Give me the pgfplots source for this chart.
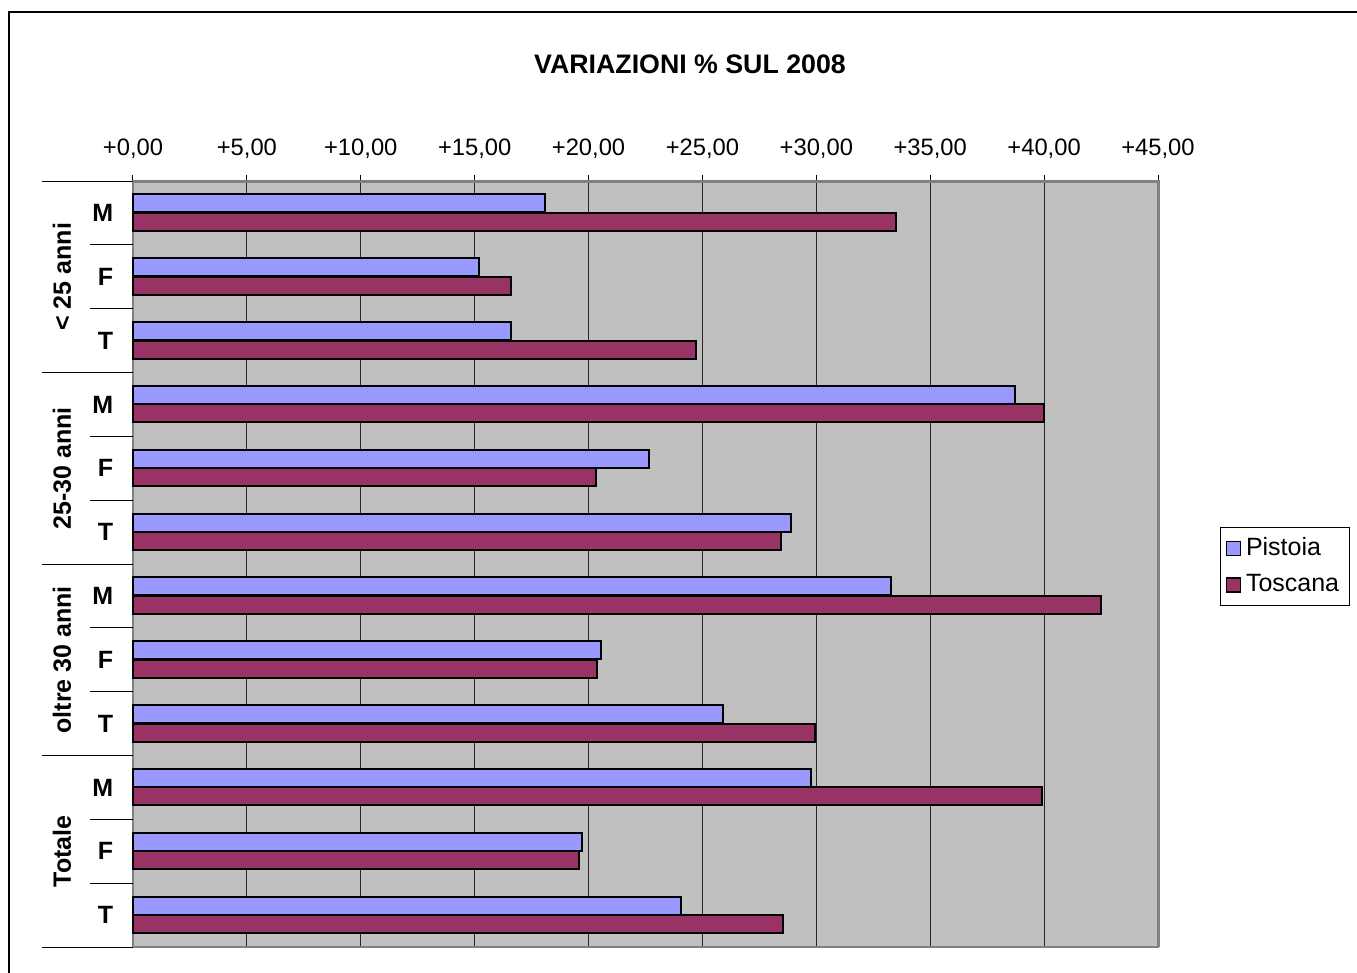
\documentclass[border=0pt]{standalone}
\usepackage{pgfplots}
\pgfplotsset{compat=1.18}
\usepackage{fontspec}
\setmainfont{Liberation Sans}
\definecolor{pist}{RGB}{153,153,255}
\definecolor{tosc}{RGB}{153,51,102}
\definecolor{plotbg}{RGB}{192,192,192}
\definecolor{bord}{RGB}{128,128,128}
\begin{document}
\fontsize{10}{12}\selectfont
\begin{tikzpicture}
\useasboundingbox (0,0) rectangle (542.8pt,388.8pt);
\draw[line width=0.5pt] (3.6pt,-5pt) -- (3.6pt,384pt) -- (550pt,384pt);
\node[font=\bfseries\fontsize{10.7}{12}\selectfont] at (276pt,363.2pt) {VARIAZIONI \% SUL 2008};
\begin{axis}[
  at={(53.2pt,10pt)}, anchor=south west,
  scale only axis, width=410pt, height=306.4pt,
  xbar, bar width=7.2pt,
  xmin=0, xmax=45, ymin=-0.5, ymax=11.5, y dir=reverse,
  xtick={0,5,...,45},
  xticklabels={{+0,00},{+5,00},{+10,00},{+15,00},{+20,00},{+25,00},{+30,00},{+35,00},{+40,00},{+45,00}},
  xticklabel pos=upper, xtick pos=upper,
  xticklabel style={font=\fontsize{9.5}{11}\selectfont, yshift=3.2pt},
  xtick align=outside, major tick length=2.4pt,
  xtick style={black, line width=0.4pt},
  ytick={0,...,11},
  yticklabels={M,F,T,M,F,T,M,F,T,M,F,T},
  ytick style={draw=none},
  yticklabel style={font=\bfseries\fontsize{10}{12}\selectfont, xshift=-2pt},
  xmajorgrids, grid style={black!85, line width=0.4pt},
  axis background/.style={fill=plotbg},
  axis line style={bord, line width=0.6pt},
  clip=false,
  legend entries={Pistoia,Toscana},
  legend cell align=left,
  legend image code/.code={\draw[#1, draw=black, line width=0.6pt] (0pt,-2.8pt) rectangle (5.6pt,2.8pt);},
  legend style={at={(1.0605,0.497)}, anchor=west, draw=black, line width=0.4pt,
    font=\fontsize{10}{12}\selectfont, row sep=2pt, inner sep=2pt,
    /tikz/every even column/.append style={column sep=1pt}},
]
\addplot[fill=pist, draw=black, line width=0.8pt, bar shift=3.8pt] coordinates {
 (18.09,0) (15.19,1) (16.59,2) (38.72,3) (22.65,4) (28.88,5)
 (33.27,6) (20.54,7) (25.90,8) (29.76,9) (19.71,10) (24.06,11)};
\addplot[fill=tosc, draw=black, line width=0.8pt, bar shift=-3.6pt] coordinates {
 (33.50,0) (16.59,1) (24.71,2) (40.00,3) (20.32,4) (28.45,5)
 (42.49,6) (20.37,7) (29.94,8) (39.90,9) (19.58,10) (28.53,11)};
\draw[black, line width=0.4pt] (axis cs:0,-0.5) -- ++(-36.4pt,0pt);
\draw[black, line width=0.4pt] (axis cs:0,2.5) -- ++(-36.4pt,0pt);
\draw[black, line width=0.4pt] (axis cs:0,5.5) -- ++(-36.4pt,0pt);
\draw[black, line width=0.4pt] (axis cs:0,8.5) -- ++(-36.4pt,0pt);
\draw[black, line width=0.4pt] (axis cs:0,11.5) -- ++(-36.4pt,0pt);
\draw[black, line width=0.4pt] (axis cs:0,0.5) -- ++(-17.2pt,0pt);
\draw[black, line width=0.4pt] (axis cs:0,1.5) -- ++(-17.2pt,0pt);
\draw[black, line width=0.4pt] (axis cs:0,3.5) -- ++(-17.2pt,0pt);
\draw[black, line width=0.4pt] (axis cs:0,4.5) -- ++(-17.2pt,0pt);
\draw[black, line width=0.4pt] (axis cs:0,6.5) -- ++(-17.2pt,0pt);
\draw[black, line width=0.4pt] (axis cs:0,7.5) -- ++(-17.2pt,0pt);
\draw[black, line width=0.4pt] (axis cs:0,9.5) -- ++(-17.2pt,0pt);
\draw[black, line width=0.4pt] (axis cs:0,10.5) -- ++(-17.2pt,0pt);
\draw[bord, line width=1.2pt] (rel axis cs:1,0) -- (rel axis cs:1,1) -- (rel axis cs:0,1);
\node[rotate=90, font=\bfseries\fontsize{10}{12}\selectfont] at ([xshift=-28.4pt]axis cs:0,1) {< 25 anni};
\node[rotate=90, font=\bfseries\fontsize{10}{12}\selectfont] at ([xshift=-28.4pt]axis cs:0,4) {25-30 anni};
\node[rotate=90, font=\bfseries\fontsize{10}{12}\selectfont] at ([xshift=-28.4pt]axis cs:0,7) {oltre 30 anni};
\node[rotate=90, font=\bfseries\fontsize{10}{12}\selectfont] at ([xshift=-28.4pt]axis cs:0,10) {Totale};
\end{axis}
\end{tikzpicture}
\end{document}
